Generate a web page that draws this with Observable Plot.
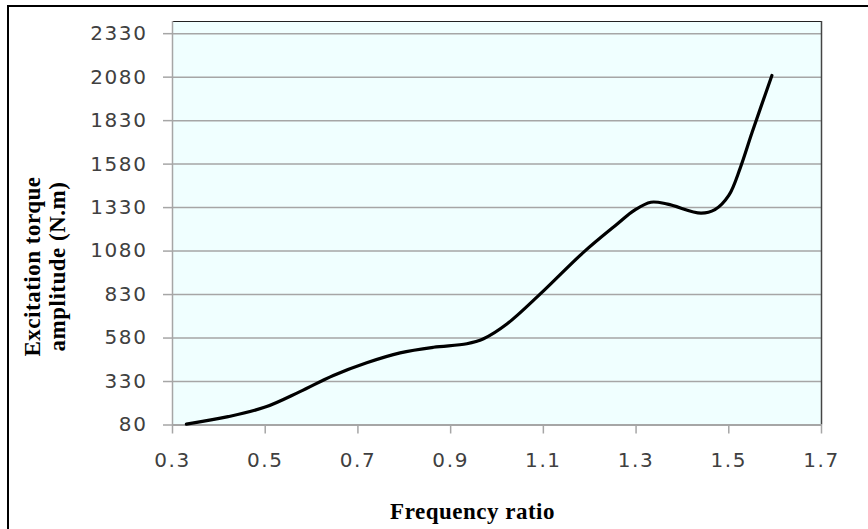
<!DOCTYPE html>
<html><head><meta charset="utf-8">
<script src="https://cdn.jsdelivr.net/npm/d3@7"></script>
<script src="https://cdn.jsdelivr.net/npm/@observablehq/plot@0.6"></script>
<style>
body{margin:0;background:#fff;overflow:hidden}
#wrap{position:relative;width:868px;height:529px}
#border{position:absolute;left:7px;top:5px;width:900px;height:600px;border-left:2.5px solid #000;border-top:2.5px solid #000;pointer-events:none}
g[aria-label="y-axis tick label"] text, g[aria-label="x-axis tick label"] text{letter-spacing:1.6px}
g[aria-label="text"] text{letter-spacing:0.5px}
</style></head><body><div id="wrap"></div>
<script>
const freqRatio = [0.33, 0.42, 0.50, 0.575, 0.647, 0.719, 0.791, 0.863, 0.935, 0.971, 1.022, 1.094, 1.187, 1.260, 1.296, 1.332, 1.368, 1.44, 1.47, 1.50, 1.525, 1.55, 1.593];
const torque = [85, 128, 183, 272, 365, 438, 495, 527, 547, 576, 662, 835, 1074, 1237, 1314, 1361, 1350, 1298, 1318, 1400, 1560, 1760, 2090];
const yTicks = [80, 330, 580, 830, 1080, 1330, 1580, 1830, 2080, 2330];
const xTicks = [0.3, 0.5, 0.7, 0.9, 1.1, 1.3, 1.5, 1.7];
const xDomain = [0.3, 1.7];
const yDomain = [80, 2400];
const xLabel = "Frequency ratio";
const yLabel = "Excitation torque\namplitude (N.m)";

const data = freqRatio.map((x, i) => ({x, y: torque[i]}));
const serif = "'Liberation Serif','Times New Roman',serif";

const chart = Plot.plot({
  width: 868, height: 529,
  marginLeft: 172, marginRight: 47, marginTop: 21, marginBottom: 104.5,
  style: {fontFamily: "'DejaVu Sans', Verdana, sans-serif", fontSize: "20px", color: "#404040", background: "transparent", overflow: "visible"},
  x: {domain: xDomain, label: null},
  y: {domain: yDomain, label: null},
  marks: [
    Plot.frame({fill: "#f0ffff"}),
    Plot.gridY(yTicks, {stroke: "#a6a6a6", strokeOpacity: 1, strokeWidth: 1.5}),
    Plot.ruleY([yDomain[1]], {stroke: "#222", strokeWidth: 1.2}),
    Plot.ruleX([xDomain[1]], {stroke: "#444", strokeWidth: 1.5}),
    Plot.ruleX([xDomain[0]], {stroke: "#a6a6a6", strokeWidth: 1.5}),
    Plot.ruleY([yDomain[0]], {stroke: "#a6a6a6", strokeWidth: 2}),
    Plot.axisY(yTicks, {tickSize: 9, tickPadding: 16, stroke: "#a6a6a6", strokeWidth: 1.5, fill: "#404040", tickFormat: d => String(d), label: null}),
    Plot.axisX(xTicks, {tickSize: 9, tickPadding: 19, stroke: "#a6a6a6", strokeWidth: 1.5, fill: "#404040", tickFormat: d => d.toFixed(1), label: null}),
    Plot.line(data, {x: "x", y: "y", curve: "catmull-rom", stroke: "#000", strokeWidth: 3.2}),
    Plot.text([xLabel], {text: d => d, frameAnchor: "bottom", dx: -24.5, dy: 86.5, fontFamily: serif, fontWeight: "bold", fontSize: 23, fill: "#000", textAnchor: "middle", lineAnchor: "middle"}),
    Plot.text([yLabel], {text: d => d, frameAnchor: "left", rotate: -90, dx: -128.4, dy: 43.25, fontFamily: serif, fontWeight: "bold", fontSize: 23, lineHeight: 1.1, fill: "#000", textAnchor: "middle", lineAnchor: "middle"})
  ]
});
const wrap = document.getElementById("wrap");
wrap.appendChild(chart);
const b = document.createElement("div");
b.id = "border";
wrap.appendChild(b);
</script>
</body></html>
